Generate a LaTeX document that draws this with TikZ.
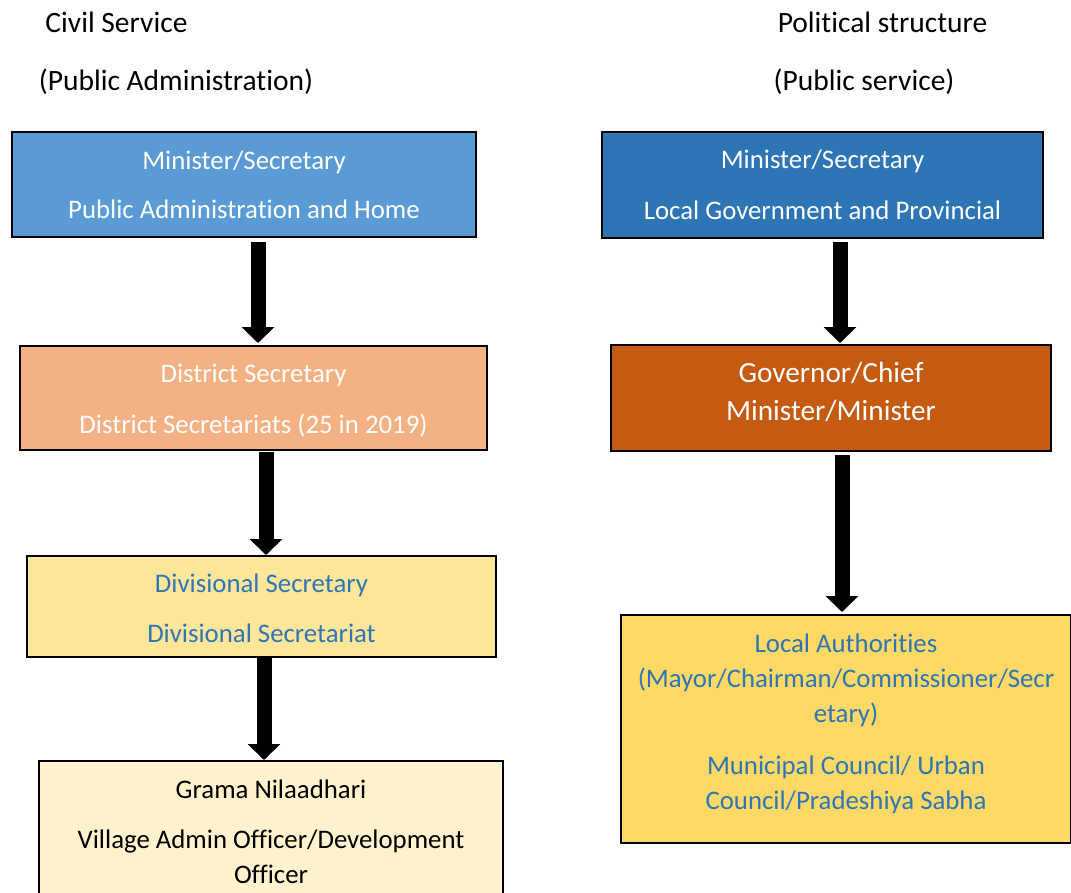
\documentclass[tikz,border=0pt]{standalone}
\usepackage{fontspec}
\setmainfont{Carlito}[Ligatures=NoCommon]
\usepackage{tikz}
\usetikzlibrary{arrows.meta}
\definecolor{boxA}{HTML}{5B9BD5}
\definecolor{boxB}{HTML}{2E75B6}
\definecolor{boxC}{HTML}{F4B183}
\definecolor{boxD}{HTML}{C55A11}
\definecolor{boxE}{HTML}{FFE699}
\definecolor{boxF}{HTML}{FFD966}
\definecolor{boxG}{HTML}{FFF2CC}
\definecolor{bluetext}{HTML}{2E75B6}

\begin{document}
\begin{tikzpicture}[x=1pt,y=-1pt,
                    every node/.style={font=\fontsize{26.8}{35}\selectfont},
                    heading/.style={font=\fontsize{29.5}{35}\selectfont},
                    levelbox/.style={draw=black, line width=2pt, rectangle, anchor=north west,
                                     inner sep=0pt, align=center},
                    bigarrow/.style={line width=15pt, -{Triangle[width=32pt,length=16pt]}}]
                    \useasboundingbox (0,0) rectangle (1071,892);
                    \clip (0,0) rectangle (1071,892);
                    % headings
                    \node[heading] (civil) at (116.5,22) {Civil Service};
                    \node[heading] (civilsub) at (176,82) {(Public Administration)};
                    \node[heading] (political) at (882.5,22) {Political structure};
                    \node[heading] (politicalsub) at (864,82) {(Public service)};
                    % civil service column
                    \node[levelbox, fill=boxA, text=white, minimum width=464, minimum height=105] (minA) at (11,131)
                        {Minister/Secretary\\[14pt]Public Administration and Home};
                    \node[levelbox, fill=boxC, text=white, minimum width=467, minimum height=104] (district) at (19,345)
                        {\rule{0pt}{24pt}District Secretary\\[16pt]District Secretariats (25 in 2019)};
                    \node[levelbox, fill=boxE, text=bluetext, minimum width=469, minimum height=101] (divisional) at (26,555)
                        {\rule{0pt}{22pt}Divisional Secretary\\[15pt]Divisional Secretariat};
                    \node[levelbox, fill=boxG, text=black, minimum width=464, minimum height=141] (grama) at (38,760)
                        {Grama Nilaadhari\\[15pt]Village Admin Officer/Development\\Officer};
                    % political column
                    \node[levelbox, fill=boxB, text=white, minimum width=441, minimum height=106] (minB) at (601,131)
                        {Minister/Secretary\\[16pt]Local Government and Provincial};
                    \node[levelbox, fill=boxD, text=white, minimum width=440, minimum height=106,
                          font=\fontsize{29.3}{38}\selectfont] (governor) at (610,344)
                        {Governor/Chief\\Minister/Minister\rule[-13pt]{0pt}{0pt}};
                    \node[levelbox, fill=boxF, text=bluetext, minimum width=450, minimum height=228] (local) at (620,614)
                        {Local Authorities\\(Mayor/Chairman/Commissioner/Secr\\etary)\\[17pt]Municipal Council/ Urban\\Council/Pradeshiya Sabha\rule[-14pt]{0pt}{0pt}};
                    % arrows
                    \draw[bigarrow] ([xshift=14pt,yshift=-4pt]minA.south) -- ([xshift=4.5pt,yshift=2pt]district.north);
                    \draw[bigarrow] ([xshift=12.5pt,yshift=-1pt]district.south) -- ([xshift=4.5pt]divisional.north);
                    \draw[bigarrow] ([xshift=2.5pt]divisional.south) -- ([xshift=-7pt]grama.north);
                    \draw[bigarrow] ([xshift=17.5pt,yshift=-3pt]minB.south) -- ([xshift=9pt,yshift=1pt]governor.north);
                    \draw[bigarrow] ([xshift=11pt,yshift=-3pt]governor.south) -- ([xshift=-4pt,yshift=2pt]local.north);
                \end{tikzpicture}
\end{document}
